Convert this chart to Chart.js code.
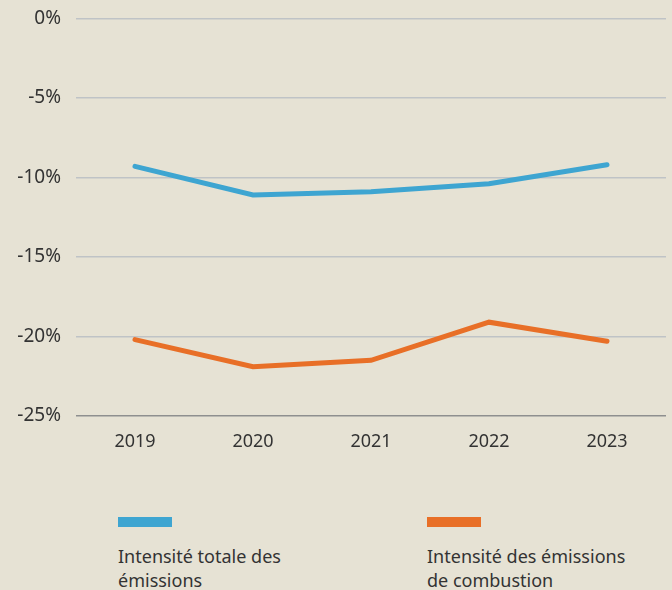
<!DOCTYPE html>
<html>
<head>
<meta charset="utf-8">
<script src="https://cdn.jsdelivr.net/npm/chart.js@4"></script>
<style>
  html, body { margin: 0; padding: 0; background: #e6e2d4; }
  #wrap { position: relative; width: 672px; height: 590px; overflow: hidden; font-family: "Noto Sans", sans-serif; color: #333; }
  #box { position: absolute; left: 0; top: -8px; width: 672px; height: 478px; }
  .item { position: absolute; top: 517px; width: 215px; }
  .sw { width: 54px; height: 10px; }
  .lbl { margin-top: 17px; font-size: 18px; line-height: 24px; }
</style>
</head>
<body>
<div id="wrap">
  <div id="box"><canvas id="myChart"></canvas></div>
  <div id="legend"></div>
</div>
<script>
// valeurs (variation en %)
const years = ["2019", "2020", "2021", "2022", "2023"];
const totale = [-9.3, -11.1, -10.9, -10.4, -9.2];
const combustion = [-20.2, -21.9, -21.5, -19.1, -20.3];
const seriesNames = ["Intensité totale des émissions", "Intensité des émissions de combustion"];
const seriesColors = ["#3ea5d1", "#e86f27"];
const yTicks = [0, -5, -10, -15, -20, -25];

// legende html sous le graphique
const legendX = [118, 427];
const legend = document.getElementById("legend");
seriesNames.forEach((name, i) => {
  const item = document.createElement("div");
  item.className = "item";
  item.style.left = legendX[i] + "px";
  item.innerHTML = `<div class="sw" style="background:${seriesColors[i]}"></div><div class="lbl">${name}</div>`;
  legend.appendChild(item);
});

function renderChart() {
  const ctx = document.getElementById("myChart").getContext("2d");

  new Chart(ctx, {
    type: "line",
    data: {
      labels: years,
      datasets: [
        {
          label: seriesNames[0],
          data: totale,
          borderColor: seriesColors[0],
          borderWidth: 5,
          borderCapStyle: "round",
          pointRadius: 0,
          tension: 0,
        },
        {
          label: seriesNames[1],
          data: combustion,
          borderColor: seriesColors[1],
          borderWidth: 5,
          borderCapStyle: "round",
          pointRadius: 0,
          tension: 0,
        },
      ],
    },
    options: {
      responsive: true,
      maintainAspectRatio: false,
      animation: false,
      layout: { padding: { top: 1, right: 6, left: 0, bottom: 0 } },
      plugins: { legend: { display: false }, tooltip: { enabled: false } },
      scales: {
        x: {
          offset: true,
          grid: { display: false },
          border: { display: false },
          ticks: { color: "#333", font: { family: "Noto Sans", size: 18 }, padding: 7 },
          afterFit: (scale) => { scale.height = 54; },
        },
        y: {
          min: -25,
          max: 0,
          afterBuildTicks: (scale) => { scale.ticks = yTicks.map((v) => ({ value: v })); },
          grid: {
            drawTicks: false,
            lineWidth: 1.5,
            color: (c) => (c.tick && c.tick.value === -25 ? "#8e8f8f" : "#bfc3c6"),
          },
          border: { display: false },
          ticks: {
            color: "#333",
            font: { family: "Noto Sans", size: 19 },
            padding: 15,
            callback: (v) => v + "%",
          },
          afterFit: (scale) => { scale.width = 76; },
        },
      },
    },
  });
}

renderChart();
</script>
</body>
</html>
